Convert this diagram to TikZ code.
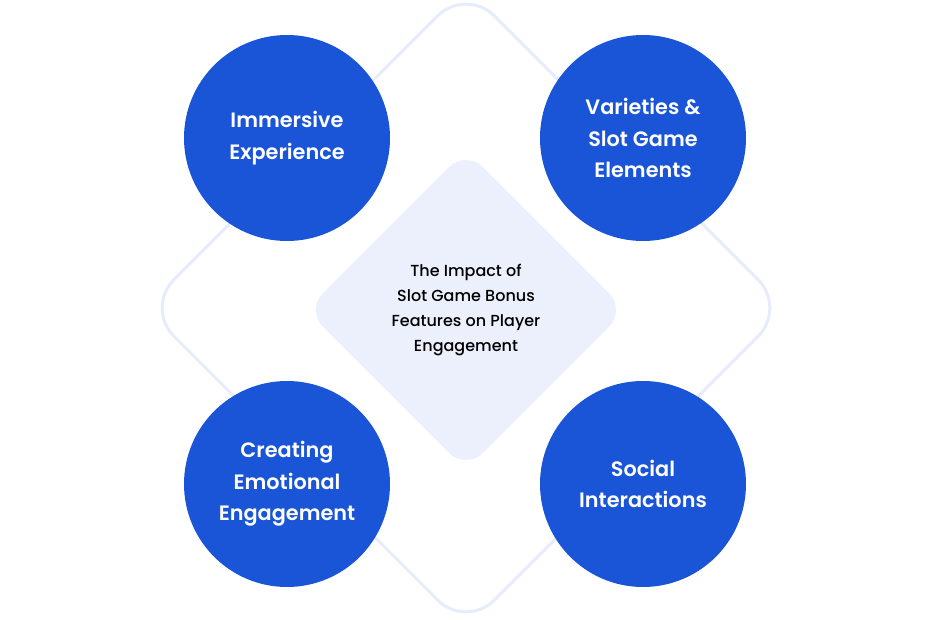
\documentclass[tikz,border=0pt]{standalone}
\usepackage{fontspec}
\setmainfont{Poppins}
\newfontfamily\semifont{Poppins SemiBold}
\newfontfamily\medfont{Poppins Medium}
\usepackage{tikz}
\usetikzlibrary{shapes.geometric, positioning}
\definecolor{slotblue}{HTML}{1A55D7}
\definecolor{paleblue}{HTML}{ECF0FD}
\definecolor{lineblue}{HTML}{E6ECFC}
\tikzstyle{topic} = [circle,fill=slotblue,minimum size=206pt,inner sep=0pt,text=white,align=center,font=\semifont\fontsize{20.8}{31.5}\selectfont]
\tikzstyle{hub} = [diamond,aspect=1,fill=paleblue,minimum size=320pt,inner sep=0pt,rounded corners=24pt,align=center,font=\medfont\fontsize{16}{25}\selectfont]
\tikzstyle{frame} = [diamond,aspect=1,draw=lineblue,line width=3pt,minimum size=642pt,inner sep=0pt,rounded corners=40pt]

\begin{document}
\begin{tikzpicture}[x=1pt,y=-1pt,node distance=3cm,on grid]
    \useasboundingbox (0,0) rectangle (930,620);
    \node[frame](ring) at (466,308) {};
    \node[hub](center) at (466,310) {The Impact of\\Slot Game Bonus\\Features on Player\\Engagement};
    \node[topic](c_1)[above left=172pt and 179pt of center]{Immersive\\Experience};
    \node[topic](c_2)[above right=172pt and 177pt of center]{Varieties \&\\Slot Game\\Elements};
    \node[topic](c_3)[below left=174pt and 179pt of center]{Creating\\Emotional\\Engagement};
    \node[topic](c_4)[below right=174pt and 177pt of center]{Social\\Interactions};
\end{tikzpicture}
\end{document}
